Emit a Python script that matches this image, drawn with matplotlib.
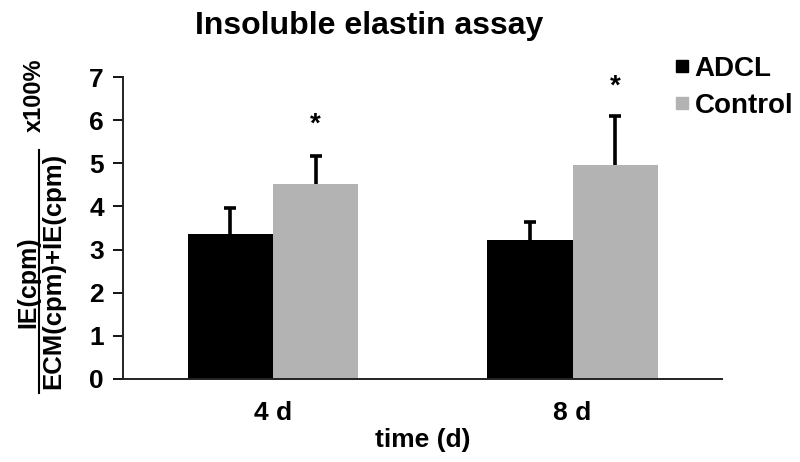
import matplotlib
matplotlib.use("Agg")
import matplotlib.pyplot as plt
import numpy as np
from matplotlib.lines import Line2D

plt.rcParams["font.family"] = ["Liberation Sans", "DejaVu Sans"]
plt.rcParams["font.weight"] = "bold"

groups = ["4 d", "8 d"]
series = ["ADCL", "Control"]
adcl = [3.36, 3.23]
adcl_err = [0.60, 0.41]
control = [4.51, 4.96]
control_err = [0.67, 1.15]
star_y = [5.9, 6.78]
colors = ["#000000", "#b3b3b3"]

fig = plt.figure(figsize=(8, 4.62), dpi=100)
ax = fig.add_axes([0.154, 0.18, 0.749, 0.653])

x = np.arange(len(groups))
w = 0.285
ekw = dict(fmt="none", ecolor="black", elinewidth=2.6, capsize=4.5, capthick=2.6)
ax.bar(x - w / 2, adcl, w, color=colors[0], zorder=2)
ax.bar(x + w / 2, control, w, color=colors[1], zorder=2)
for xs, vals, errs in [(x - w / 2, adcl, adcl_err), (x + w / 2, control, control_err)]:
    eb = ax.errorbar(xs, vals, yerr=[np.zeros(2), errs], zorder=1, **ekw)
    eb[1][0].set_visible(False)  # hide lower cap
for xi, sy in zip(x, star_y):
    ax.text(xi + w / 2, sy, "*", ha="center", va="center", fontsize=20, fontweight="bold")

ax.set_xlim(-0.5, 1.5)
ax.set_ylim(0, 7)
ax.set_yticks(range(8))
ax.set_xticks(x)
ax.set_xticklabels(groups)
ax.tick_params(axis="x", length=0, pad=16, labelsize=19)
ax.tick_params(axis="y", length=7, width=1.3, pad=7, labelsize=19, direction="out")
for s in ["top", "right"]:
    ax.spines[s].set_visible(False)
for s in ["left", "bottom"]:
    ax.spines[s].set_linewidth(1.4)
    ax.spines[s].set_color("#222222")
ax.set_xlabel("time (d)", fontsize=19, fontweight="bold", labelpad=2)

fig.text(0.461, 1 - 26 / 462, "Insoluble elastin assay", ha="center", va="center",
         fontsize=23, fontweight="bold")

# y label drawn as a fraction
fig.text(28 / 800, 1 - 282 / 462, "IE(cpm)", rotation=90, ha="center", va="center",
         fontsize=18, fontweight="bold")
fig.text(53 / 800, 1 - 271 / 462, "ECM(cpm)+IE(cpm)", rotation=90, ha="center", va="center",
         fontsize=18.5, fontweight="bold")
fig.add_artist(Line2D([39 / 800, 39 / 800], [1 - 150 / 462, 1 - 393 / 462],
                      transform=fig.transFigure, color="black", lw=1.5))
fig.text(34 / 800, 1 - 95 / 462, "x100%", rotation=90, ha="center", va="center",
         fontsize=17, fontweight="bold")

handles = [Line2D([], [], marker="s", ls="none", color=c, markersize=9) for c in colors]
fig.legend(handles, series, loc="upper left", bbox_to_anchor=(0.842, 1 - 56 / 462),
           frameon=False, fontsize=20, handlelength=0.6, handletextpad=0.15,
           labelspacing=0.4, borderaxespad=0, borderpad=0)

fig.savefig("out.png", dpi=100)
